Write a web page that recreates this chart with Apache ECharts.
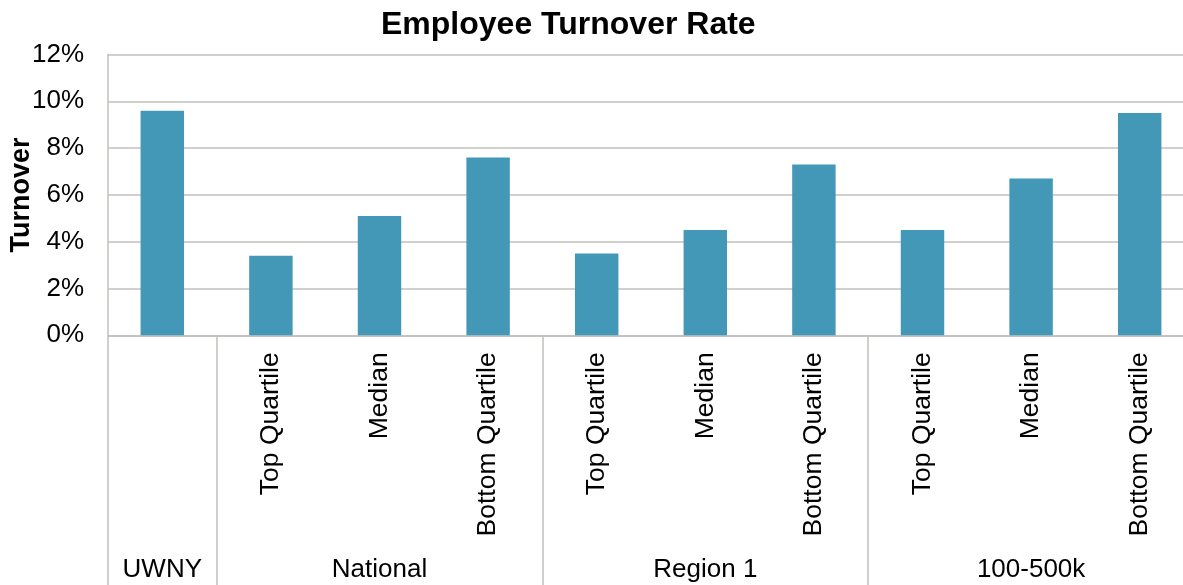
<!DOCTYPE html>
<html>
<head>
<meta charset="utf-8">
<script src="https://cdn.jsdelivr.net/npm/echarts@6/dist/echarts.min.js"></script>
<style>
  html, body { margin: 0; padding: 0; background: #ffffff; }
  #chart { width: 1183px; height: 585px; }
</style>
</head>
<body>
<div id="chart"></div>
<script>
// Turnover rate (%) per benchmark, grouped by peer set
const groups = ['UWNY', 'National', 'Region 1', '100-500k'];
const groupSizes = [1, 3, 3, 3];
const categories = [
  '',
  'Top Quartile', 'Median', 'Bottom Quartile',
  'Top Quartile', 'Median', 'Bottom Quartile',
  'Top Quartile', 'Median', 'Bottom Quartile'
];
const turnover = [9.6, 3.4, 5.1, 7.6, 3.5, 4.5, 7.3, 4.5, 6.7, 9.5];
const yTicks = { min: 0, max: 12, step: 2 };

// Group axis runs on half-category points so names can sit at group centres
// and separators at group boundaries.
const halfPoints = [];
const boundaries = new Set([0]);
{
  const total = categories.length * 2;
  for (let i = 0; i <= total; i++) halfPoints.push('');
  let start = 0;
  groups.forEach((g, gi) => {
    const span = groupSizes[gi] * 2;
    halfPoints[start + span / 2] = g;
    start += span;
    boundaries.add(start);
  });
}

const FONT = '"Liberation Sans", Arial, sans-serif';
const GRID_COLOR = '#c0c0bb';
const chart = echarts.init(document.getElementById('chart'), null, { renderer: 'canvas' });

chart.setOption({
  animation: false,
  backgroundColor: '#ffffff',
  title: {
    text: 'Employee Turnover Rate',
    left: 376,
    top: 4,
    textStyle: { fontFamily: FONT, fontSize: 32, fontWeight: 'bold', color: '#000000' }
  },
  grid: {
    left: 108,
    top: 54.5,
    width: 1086,
    bottom: 249.7,
    containLabel: false,
    outerBoundsMode: 'none'
  },
  xAxis: [
    {
      type: 'category',
      data: categories,
      position: 'bottom',
      axisLine: { show: true, lineStyle: { color: GRID_COLOR, width: 1.5 } },
      axisTick: { show: false },
      axisLabel: {
        interval: 0,
        rotate: 90,
        margin: 17,
        fontFamily: FONT,
        fontSize: 26.5,
        color: '#000000'
      }
    },
    {
      type: 'category',
      data: halfPoints,
      boundaryGap: false,
      position: 'bottom',
      axisLine: { show: false },
      axisTick: {
        show: true,
        length: 252,
        interval: (idx) => boundaries.has(idx),
        lineStyle: { color: GRID_COLOR, width: 1.5 }
      },
      axisLabel: {
        interval: (idx, val) => val !== '',
        margin: 222,
        fontFamily: FONT,
        fontSize: 26,
        color: '#000000'
      }
    }
  ],
  yAxis: {
    type: 'value',
    min: yTicks.min,
    max: yTicks.max,
    interval: yTicks.step,
    name: 'Turnover',
    nameLocation: 'middle',
    nameRotate: 90,
    nameGap: 73,
    nameMoveOverlap: false,
    nameTextStyle: { fontFamily: FONT, fontSize: 27, fontWeight: 'bold', color: '#000000' },
    axisLine: { show: true, lineStyle: { color: GRID_COLOR, width: 1.5 } },
    axisTick: { show: false },
    axisLabel: {
      formatter: '{value}%',
      margin: 24,
      fontFamily: FONT,
      fontSize: 26,
      color: '#000000'
    },
    splitLine: { show: true, lineStyle: { color: GRID_COLOR, width: 1.5 } }
  },
  series: [
    {
      type: 'bar',
      xAxisIndex: 0,
      data: turnover,
      barWidth: '40%',
      itemStyle: { color: '#4398b8' }
    }
  ]
});
</script>
</body>
</html>
